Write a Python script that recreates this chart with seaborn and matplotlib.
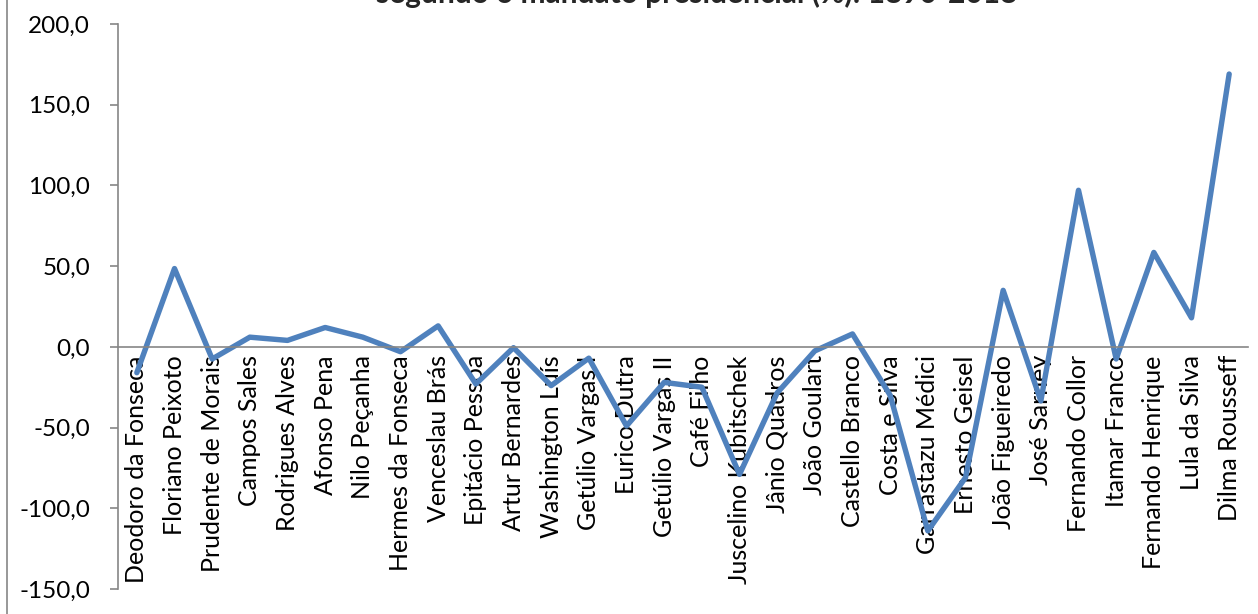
import matplotlib
matplotlib.use('Agg')
import matplotlib.pyplot as plt
import matplotlib.ticker as mticker
import pandas as pd
import seaborn as sns

PRESIDENTS = ['Deodoro da Fonseca', 'Floriano Peixoto', 'Prudente de Morais', 'Campos Sales',
              'Rodrigues Alves', 'Afonso Pena', 'Nilo Peçanha', 'Hermes da Fonseca',
              'Venceslau Brás', 'Epitácio Pessoa', 'Artur Bernardes', 'Washington Luís',
              'Getúlio Vargas I', 'Eurico Dutra', 'Getúlio Vargas II', 'Café Filho',
              'Juscelino Kubitschek', 'Jânio Quadros', 'João Goulart', 'Castello Branco',
              'Costa e Silva', 'Garrastazu Médici', 'Ernesto Geisel', 'João Figueiredo',
              'José Sarney', 'Fernando Collor', 'Itamar Franco', 'Fernando Henrique',
              'Lula da Silva', 'Dilma Rousseff']
VARIATION = [-16.0, 48.5, -7.5, 6.0, 4.0, 12.0, 6.0, -3.0,
             13.0, -23.0, -0.5, -24.0, -7.0, -49.0, -22.0, -25.0,
             -79.0, -28.5, -2.5, 8.0, -30.0, -114.0, -81.0, 35.0,
             -33.5, 97.0, -7.5, 58.5, 18.0, 169.0]
TITLE = 'Variação do índice\nsegundo o mandato presidencial (%): 1890-2018'
Y_TICKS = [-150, -100, -50, 0, 50, 100, 150, 200]

LINE_COLOR = '#4F81BD'
AXIS_COLOR = '#868686'


def main():
    sns.set_style('white')
    plt.rcParams['font.family'] = ['Lato', 'DejaVu Sans']
    df = pd.DataFrame({'presidente': PRESIDENTS, 'variacao': VARIATION})

    fig = plt.figure(figsize=(12.58, 6.14), dpi=100)
    ax = fig.add_axes([118 / 1258, 1 - 589 / 614, 1130 / 1258, 565 / 614])
    sns.lineplot(data=df, x='presidente', y='variacao', sort=False, color=LINE_COLOR,
                 linewidth=3.9, solid_joinstyle='round', solid_capstyle='round', ax=ax)

    ax.set_xlim(-0.5, len(PRESIDENTS) - 0.5)
    ax.set_ylim(Y_TICKS[0], Y_TICKS[-1])
    ax.set_yticks(Y_TICKS)
    ax.yaxis.set_major_formatter(mticker.FuncFormatter(lambda v, _: f'{v:.1f}'.replace('.', ',')))
    ax.set_xticks(range(len(PRESIDENTS)))
    ax.set_xticklabels(PRESIDENTS)
    ax.set_xticks([i - 0.5 for i in range(len(PRESIDENTS) + 1)], minor=True)
    ax.set_xlabel('')
    ax.set_ylabel('')

    for side in ['top', 'right']:
        ax.spines[side].set_visible(False)
    ax.spines['bottom'].set_position(('data', 0))
    for side in ['left', 'bottom']:
        ax.spines[side].set_color(AXIS_COLOR)
        ax.spines[side].set_linewidth(1.2)
    ax.tick_params(axis='x', which='major', length=0, pad=6, labelsize=18, labelcolor='black',
                   labelrotation=90)
    ax.tick_params(axis='x', which='minor', length=6, width=1.2, color=AXIS_COLOR, direction='out')
    ax.tick_params(axis='y', length=6, width=1.2, color=AXIS_COLOR, direction='out', left=True,
                   labelsize=17.5, labelcolor='black', pad=14)
    plt.setp(ax.get_xticklabels(), va='top', ha='center')

    fig.text(0.554, 1 - 8 / 614, TITLE, ha='center', va='bottom', fontsize=21.5,
             fontweight='bold', multialignment='center', linespacing=1.2)
    fig.add_artist(plt.Line2D([7 / 1258, 7 / 1258], [0, 1], color=AXIS_COLOR, linewidth=1.2))

    fig.savefig('out.png', dpi=100, facecolor='white')


if __name__ == '__main__':
    main()
